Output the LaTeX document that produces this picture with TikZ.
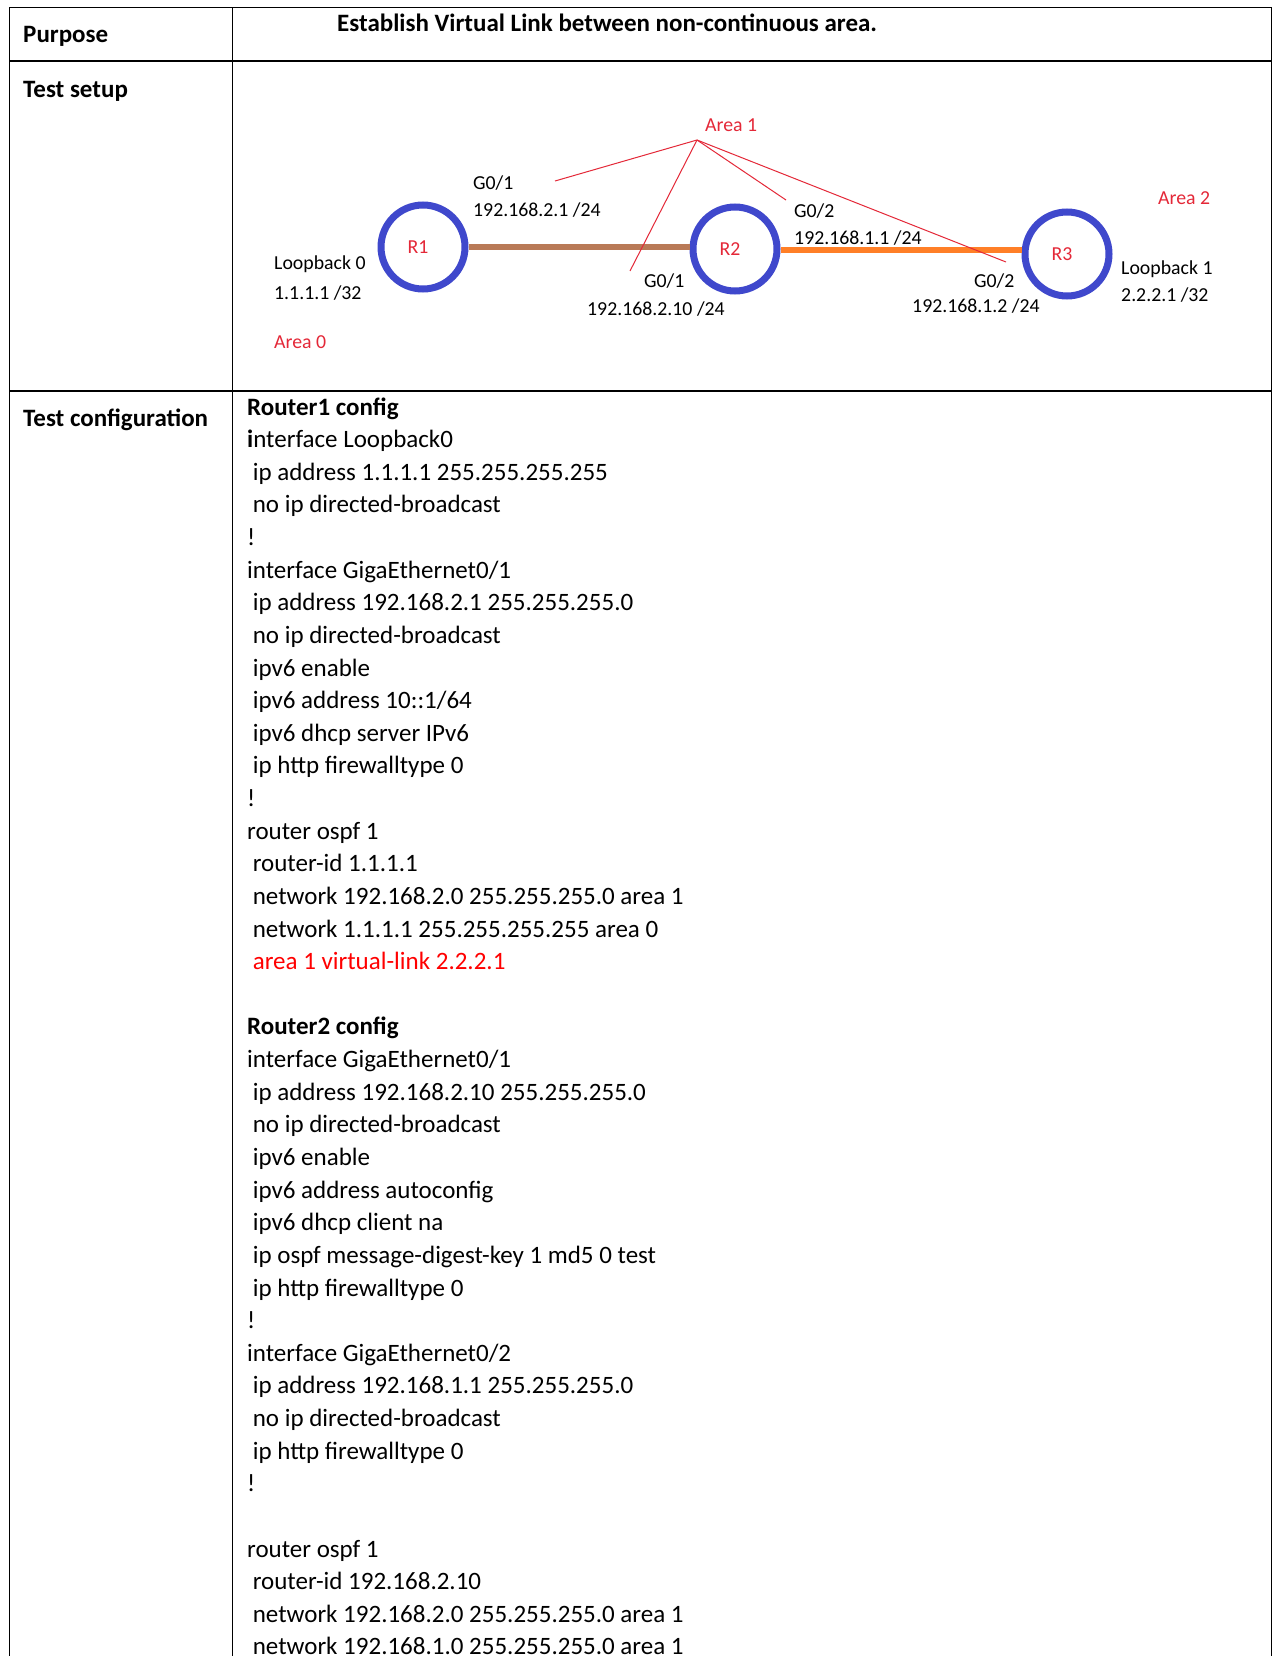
\documentclass[tikz,border=0pt]{standalone}
\usepackage{fontspec}
\setmainfont{Carlito}
\definecolor{rblue}{RGB}{63,72,204}
\definecolor{rred}{RGB}{228,40,56}
\definecolor{lbrown}{RGB}{185,122,87}
\definecolor{lorange}{RGB}{255,127,39}
\begin{document}
\begin{tikzpicture}[x=1pt,y=-1pt,
  grid/.style={line width=1.6pt,black},
  cell/.style={anchor=base west,inner sep=0pt,font=\fontsize{25}{30}\selectfont},
  hdr/.style={cell,font=\fontsize{25}{30}\selectfont\bfseries},
  dtxt/.style={anchor=west,inner sep=0pt,font=\fontsize{19.8}{22}\selectfont},
  dred/.style={dtxt,text=rred},
  router/.style={circle,draw=rblue,line width=7pt,minimum size=84pt,inner sep=0pt},
  rlab/.style={text=rred,font=\fontsize{19.8}{22}\selectfont},
  vl/.style={rred,line width=1pt}
]
\useasboundingbox (0,0) rectangle (1277,1656);
\fill[white] (0,0) rectangle (1277,1656);
% table grid
\draw[grid] (9.5,1700) -- (9.5,7.4) -- (1271.5,7.4) -- (1271.5,1700);
\draw[grid] (232.5,7.4) -- (232.5,1700);
\draw[grid] (9.5,61.3) -- (1271.5,61.3);
\draw[grid] (9.5,390.8) -- (1271.5,390.8);
% left column
\node[hdr] (purpose) at (23,43) {Purpose};
\node[hdr] (setup) at (23,98) {Test setup};
\node[hdr] (conf) at (23,426) {Test configuration};
\node[hdr] (estab) at (337,32) {Establish Virtual Link between non-continuous area.};
% diagram
\node[router,label={[rlab,xshift=-5pt]center:R1}] (r1) at (423,247) {};
\node[router,label={[rlab,xshift=-5pt]center:R2}] (r2) at (735,249) {};
\node[router,label={[rlab,xshift=-5pt]center:R3}] (r3) at (1067,254) {};
\draw[lbrown,line width=6pt] (r1.east) -- (r1.east -| r2.west);
\draw[lorange,line width=6pt] ([yshift=-1pt]r2.east) -- ([yshift=-1pt]r2.east -| r3.west);
\coordinate (apex) at (697,140);
\coordinate (e1) at (555,181);
\coordinate (e2) at (630,271);
\coordinate (e3) at (786,200);
\coordinate (e4) at (1006,262);
\draw[vl] (apex) -- (e1);
\draw[vl] (apex) -- (e2);
\draw[vl] (apex) -- (e3);
\draw[vl] (apex) -- (e4);
\node[dred] (a1) at (705,125) {Area 1};
\node[dred] (a0) at (274,342) {Area 0};
\node[dred] (a2) at (1158,198) {Area 2};
\node[dtxt] (g01a) at (473,183) {G0/1};
\node[dtxt] (ip21) at (473,210) {192.168.2.1 /24};
\node[dtxt] (lb0) at (274,264) {Loopback 0};
\node[dtxt] (lb0ip) at (274,293.5) {1.1.1.1 /32};
\node[dtxt] (g01b) at (644,281) {G0/1};
\node[dtxt] (ip210) at (587,309.5) {192.168.2.10 /24};
\node[dtxt] (g02a) at (794,211) {G0/2};
\node[dtxt] (ip11) at (794,237.7) {192.168.1.1 /24};
\node[dtxt] (g02b) at (974,281) {G0/2};
\node[dtxt] (ip12) at (912,306) {192.168.1.2 /24};
\node[dtxt] (lb1) at (1121,269) {Loopback 1};
\node[dtxt] (lb1ip) at (1121,294.7) {2.2.2.1 /32};
% config text
\def\yb{415}
\def\ls{32.63}
\node[hdr] (c0) at (247,\yb+0*\ls) {Router1 config};
\node[cell] (c1) at (247,\yb+1*\ls) {\textbf{i}nterface Loopback0};
\node[cell] (c2) at (247,\yb+2*\ls) {\ ip address 1.1.1.1 255.255.255.255};
\node[cell] (c3) at (247,\yb+3*\ls) {\ no ip directed-broadcast};
\node[cell] (c4) at (247,\yb+4*\ls) {!};
\node[cell] (c5) at (247,\yb+5*\ls) {interface GigaEthernet0/1};
\node[cell] (c6) at (247,\yb+6*\ls) {\ ip address 192.168.2.1 255.255.255.0};
\node[cell] (c7) at (247,\yb+7*\ls) {\ no ip directed-broadcast};
\node[cell] (c8) at (247,\yb+8*\ls) {\ ipv6 enable};
\node[cell] (c9) at (247,\yb+9*\ls) {\ ipv6 address 10::1/64};
\node[cell] (c10) at (247,\yb+10*\ls) {\ ipv6 dhcp server IPv6};
\node[cell] (c11) at (247,\yb+11*\ls) {\ ip http firewalltype 0};
\node[cell] (c12) at (247,\yb+12*\ls) {!};
\node[cell] (c13) at (247,\yb+13*\ls) {router ospf 1};
\node[cell] (c14) at (247,\yb+14*\ls) {\ router-id 1.1.1.1};
\node[cell] (c15) at (247,\yb+15*\ls) {\ network 192.168.2.0 255.255.255.0 area 1};
\node[cell] (c16) at (247,\yb+16*\ls) {\ network 1.1.1.1 255.255.255.255 area 0};
\node[cell,text=red] (c17) at (247,\yb+17*\ls) {\ area 1 virtual-link 2.2.2.1};
\node[hdr] (c19) at (247,\yb+19*\ls) {Router2 config};
\node[cell] (c20) at (247,\yb+20*\ls) {interface GigaEthernet0/1};
\node[cell] (c21) at (247,\yb+21*\ls) {\ ip address 192.168.2.10 255.255.255.0};
\node[cell] (c22) at (247,\yb+22*\ls) {\ no ip directed-broadcast};
\node[cell] (c23) at (247,\yb+23*\ls) {\ ipv6 enable};
\node[cell] (c24) at (247,\yb+24*\ls) {\ ipv6 address autoconfig};
\node[cell] (c25) at (247,\yb+25*\ls) {\ ipv6 dhcp client na};
\node[cell] (c26) at (247,\yb+26*\ls) {\ ip ospf message-digest-key 1 md5 0 test};
\node[cell] (c27) at (247,\yb+27*\ls) {\ ip http firewalltype 0};
\node[cell] (c28) at (247,\yb+28*\ls) {!};
\node[cell] (c29) at (247,\yb+29*\ls) {interface GigaEthernet0/2};
\node[cell] (c30) at (247,\yb+30*\ls) {\ ip address 192.168.1.1 255.255.255.0};
\node[cell] (c31) at (247,\yb+31*\ls) {\ no ip directed-broadcast};
\node[cell] (c32) at (247,\yb+32*\ls) {\ ip http firewalltype 0};
\node[cell] (c33) at (247,\yb+33*\ls) {!};
\node[cell] (c35) at (247,\yb+35*\ls) {router ospf 1};
\node[cell] (c36) at (247,\yb+36*\ls) {\ router-id 192.168.2.10};
\node[cell] (c37) at (247,\yb+37*\ls) {\ network 192.168.2.0 255.255.255.0 area 1};
\node[cell] (c38) at (247,\yb+38*\ls) {\ network 192.168.1.0 255.255.255.0 area 1};
\end{tikzpicture}
\end{document}
